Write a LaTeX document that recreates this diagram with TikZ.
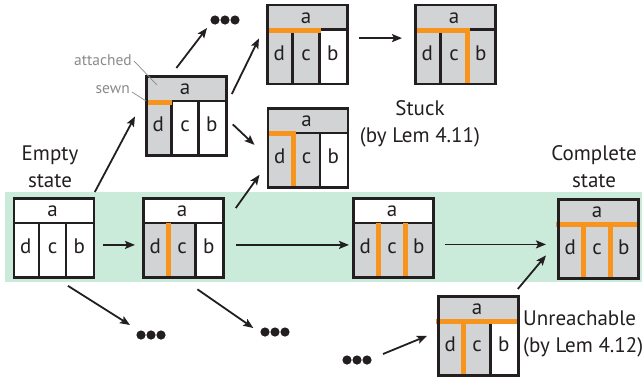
\documentclass[tikz,border=0pt]{standalone}
\usepackage{fontspec}
\setmainfont{PT Sans}
\usetikzlibrary{arrows.meta,calc}
\definecolor{bgray}{HTML}{D1D3D4}
\definecolor{orng}{HTML}{F7941D}
\definecolor{bandc}{HTML}{CBEBDA}
\definecolor{ink}{HTML}{231F20}
\definecolor{lblgray}{HTML}{8A8A8A}
\tikzset{
  grid/.style={draw=ink, line width=2.4},
  frame/.style={draw=ink, line width=2.8, rectangle, minimum width=80pt, minimum height=79pt, inner sep=0pt, anchor=north west},
  ol/.style={draw=orng, line width=5, line cap=butt},
  let/.style={anchor=base, inner sep=0pt, font=\fontsize{21}{24}\selectfont, text=ink},
  arr/.style={draw=ink, line width=1.8, -{Stealth[length=10pt,width=8pt,inset=2pt]}},
  txt/.style={align=center, inner sep=0pt, font=\fontsize{21}{27}\selectfont, text=ink},
  small/.style={inner sep=0pt, font=\fontsize{15.5}{18}\selectfont, text=lblgray},
  lead/.style={draw=lblgray, line width=0.7},
}
% name, x, y, fill a, fill d, fill c, fill b, orange code
\newcommand{\stbox}[8]{%
  \begin{scope}[shift={(#2,#3)}]
    \fill[#4] (0,0) rectangle (80,26);
    \fill[#5] (0,26) rectangle (26.67,79);
    \fill[#6] (26.67,26) rectangle (53.33,79);
    \fill[#7] (53.33,26) rectangle (80,79);
    \draw[grid] (0,26) -- (80,26) (26.67,26) -- (26.67,79) (53.33,26) -- (53.33,79);
    #8
    \node[frame] (#1) at (0,0) {};
    \node[let] at (40,19.5) {a};
    \node[let] at (13.3,56.5) {d};
    \node[let] at (40,56.5) {c};
    \node[let] at (66.7,56.5) {b};
  \end{scope}}
\newcommand{\tridots}[3]{%
  \coordinate (#1) at (#2,#3);
  \foreach \i in {-10,0,10} \fill[ink] ([xshift=\i pt]#1) circle (4.6);}
\begin{document}
\begin{tikzpicture}[x=1pt,y=-1pt]
\useasboundingbox (0,0) rectangle (642,381);
\fill[bandc] (5,192) rectangle (642,281.5);

\stbox{B1}{12.5}{197}{white}{white}{white}{white}{}
\stbox{B2}{142}{197}{white}{bgray}{bgray}{white}{\draw[ol] (26.67,26) -- (26.67,79);}
\stbox{B3}{352}{197}{white}{bgray}{bgray}{bgray}{\draw[ol] (26.67,26) -- (26.67,79) (53.33,26) -- (53.33,79);}
\stbox{B4}{557}{198}{bgray}{bgray}{bgray}{bgray}{\draw[ol] (-1.4,26.5) -- (81.4,26.5) (26.67,26.5) -- (26.67,79) (53.33,26.5) -- (53.33,79);}
\stbox{T}{145}{75}{bgray}{bgray}{white}{white}{\draw[ol] (0,27.5) -- (26.67,27.5);}
\stbox{A}{266}{3.5}{bgray}{bgray}{bgray}{white}{\draw[ol] (0,27) -- (54.5,27);}
\stbox{S}{414}{3.5}{bgray}{bgray}{bgray}{bgray}{\draw[ol] (0,27) -- (55.8,27) (53.33,24.5) -- (53.33,79);}
\stbox{C}{266.5}{107}{bgray}{bgray}{bgray}{white}{\draw[ol] (0,26.5) -- (29.2,26.5) (26.67,24) -- (26.67,79);}
\stbox{U}{437}{295}{bgray}{bgray}{bgray}{white}{\draw[ol] (-1.4,26.5) -- (81.4,26.5) (26.67,26.5) -- (26.67,79);}

\tridots{dtop}{225}{20}
\tridots{dbl}{151}{335}
\tridots{dbm}{275}{332}
\tridots{dbr}{357}{360}

\node[txt] (empty) at (50,167) {Empty\\state};
\node[txt] (stuck) at (420,124) {Stuck\\(by Lem 4.11)};
\node[txt] (complete) at (594,167) {Complete\\state};
\node[txt, align=left, anchor=west] (unreach) at (523,334) {Unreachable\\(by Lem 4.12)};

\node[small, anchor=east] (att) at (132,60) {attached};
\node[small, anchor=east] (sewn) at (130,90) {sewn};
\draw[lead] ([shift={(2,1)}]att.east) -- ([shift={(12,10)}]T.north west);
\draw[lead] ([shift={(2,2)}]sewn.east) -- ([shift={(1,26)}]T.north west);

\draw[arr] ([shift={(-0.5,-5)}]B1.north east) -- ([shift={(-10,0.5)}]T.west);
\draw[arr] ([shift={(-10,-7)}]T.north) -- ([shift={(-18,8)}]dtop);
\draw[arr] ([shift={(4,19)}]T.north east) -- ([shift={(-7,-6)}]A.west);
\draw[arr] ([shift={(5,8.5)}]T.east) -- ([shift={(-12,-3)}]C.west);
\draw[arr] ([shift={(11,11)}]B2.north east) -- ([shift={(-7,-14)}]C.south west);
\draw[arr] ([shift={(10,-6.3)}]A.east) -- ([shift={(-12,-6.3)}]S.west);
\draw[arr] ([shift={(7.5,7)}]B1.east) -- ([shift={(-7,7)}]B2.west);
\draw[arr] ([shift={(10.7,7)}]B2.east) -- ([shift={(-3,7)}]B3.west);
\draw[arr] ([shift={(10,6.5)}]B3.east) -- ([shift={(-11,5.5)}]B4.west);
\draw[arr] ([shift={(-2,-6)}]U.north east) -- ([shift={(-11,16.5)}]B4.west);
\draw[arr] ([shift={(26,-6)}]dbr) -- ([shift={(-10,0)}]U.west);
\draw[arr] ([shift={(14,7)}]B1.south) -- ([shift={(-21,-10)}]dbl);
\draw[arr] ([shift={(14,10.5)}]B2.south) -- ([shift={(-21.7,-4)}]dbm);
\end{tikzpicture}
\end{document}
